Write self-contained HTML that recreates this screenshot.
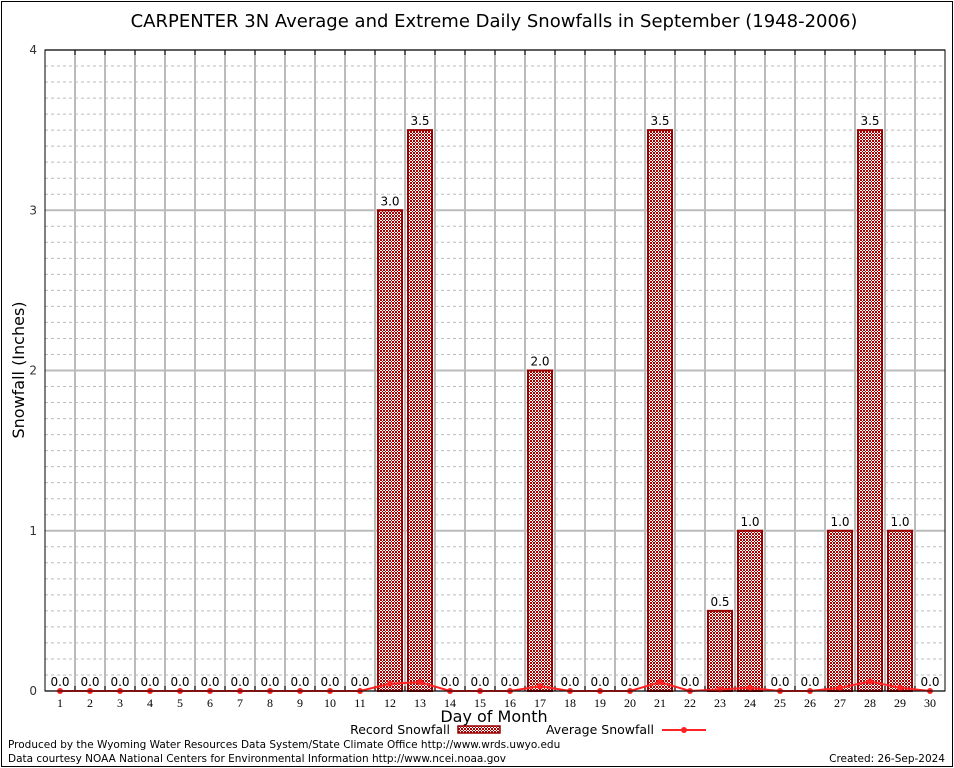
<!DOCTYPE html>
<html><head><meta charset="utf-8"><style>
body{margin:0;background:#fff}
svg{display:block;font-family:"DejaVu Sans","Liberation Sans",sans-serif}
</style></head><body>
<svg id="chart" width="954" height="768" viewBox="0 0 954 768">
<defs>
<pattern id="hatch" width="3" height="3" patternUnits="userSpaceOnUse">
<rect width="3" height="3" fill="#fff"/>
<rect width="1" height="1" fill="#a00"/><rect x="1" y="1" width="1" height="1" fill="#a00"/><rect x="2" y="2" width="1" height="1" fill="#a00"/><rect x="2" y="0" width="1" height="1" fill="#a00"/><rect x="0" y="2" width="1" height="1" fill="#a00"/>
</pattern>
</defs>
<rect x="1.5" y="1.5" width="951" height="765" fill="#fff" stroke="#000"/>
<text x="494" y="27" font-size="18" text-anchor="middle">CARPENTER 3N Average and Extreme Daily Snowfalls in September (1948-2006)</text>
<g id="grid"></g>
<g id="bars"></g>
<g id="avg"></g>
<rect x="45" y="50" width="900" height="641" fill="none" stroke="#000"/>
<text transform="translate(24,370) rotate(-90)" font-size="16" text-anchor="middle">Snowfall (Inches)</text>
<text x="494" y="722" font-size="16" text-anchor="middle">Day of Month</text>
<g>
<text x="450" y="734" font-size="12.5" text-anchor="end">Record Snowfall</text>
<rect x="458" y="726" width="42" height="7" fill="url(#hatch)" stroke="#900" stroke-width="1.5"/>
</g>
<g>
<text x="654" y="734" font-size="12.5" text-anchor="end">Average Snowfall</text>
<line x1="662" y1="730" x2="706" y2="730" stroke="#f22" stroke-width="2"/>
<circle cx="684" cy="730" r="3" fill="#f22"/>
</g>
<text x="8" y="748" font-size="10.5">Produced by the Wyoming Water Resources Data System/State Climate Office http://www.wrds.uwyo.edu</text>
<text x="8" y="762" font-size="10.5">Data courtesy NOAA National Centers for Environmental Information http://www.ncei.noaa.gov</text>
<text x="945" y="762" font-size="10.5" text-anchor="end">Created: 26-Sep-2024</text>
</svg>
<script>
const days=[1,2,3,4,5,6,7,8,9,10,11,12,13,14,15,16,17,18,19,20,21,22,23,24,25,26,27,28,29,30];
const recordSnow=[0,0,0,0,0,0,0,0,0,0,0,3.0,3.5,0,0,0,2.0,0,0,0,3.5,0,0.5,1.0,0,0,1.0,3.5,1.0,0];
const avgSnow=[0,0,0,0,0,0,0,0,0,0,0,0.045,0.055,0,0,0,0.03,0,0,0,0.055,0,0.01,0.02,0,0,0.02,0.06,0.02,0];
const yTicks=[0,1,2,3,4];
const NS='http://www.w3.org/2000/svg';
const L=45,T=50,W=900,H=641,YMAX=4;
const xs=d=>L+15+(d-1)*30;
const ys=v=>T+H-v/YMAX*H;
function mk(tag,attrs,parent){const e=document.createElementNS(NS,tag);for(const k in attrs)e.setAttribute(k,attrs[k]);parent.appendChild(e);return e;}
const grid=document.getElementById('grid'),bars=document.getElementById('bars'),avg=document.getElementById('avg');
for(let i=1;i<40;i++){if(i%10===0)continue;const y=ys(i/10);
const l=mk('line',{x1:L,x2:L+W,y1:y,y2:y,stroke:'#bbb','stroke-dasharray':'3,3'},grid);

}
yTicks.forEach(v=>{const y=ys(v);
const l=mk('line',{x1:L,x2:L+W,y1:y,y2:y,stroke:'#bbb','stroke-width':2},grid);


const t=mk('text',{x:L-8,y:y+4,'font-size':12,'text-anchor':'end',fill:'#333'},grid);t.textContent=v;

});
for(let i=1;i<days.length;i++){const x=L+i*30;
const l=mk('line',{x1:x,x2:x,y1:T,y2:T+H,stroke:'#bbb','stroke-width':2},grid);


mk('line',{x1:x,x2:x,y1:T,y2:T+5,stroke:'#000'},grid);
mk('line',{x1:x,x2:x,y1:T+H,y2:T+H-5,stroke:'#000'},grid);}
days.forEach((d,i)=>{const x=xs(d);
const t=mk('text',{x:x,y:T+H+16,'font-size':12,'text-anchor':'middle','font-family':'Liberation Serif,serif'},grid);t.textContent=d;


const v=recordSnow[i];
if(v>0){const r=mk('rect',{x:x-12,y:ys(v),width:24,height:ys(0)-ys(v),fill:'url(#hatch)',stroke:'#900','stroke-width':2},bars);

}
const lb=mk('text',{x:x,y:ys(v)-5,'font-size':12,'text-anchor':'middle'},bars);lb.textContent=v.toFixed(1);

});
const pl=mk('polyline',{points:days.map((d,i)=>xs(d)+','+ys(avgSnow[i])).join(' '),fill:'none',stroke:'#f22','stroke-width':2},avg);


days.forEach((d,i)=>{const c=mk('circle',{cx:xs(d),cy:ys(avgSnow[i]),r:3,fill:'#f22'},avg);

});
</script>
</body></html>
